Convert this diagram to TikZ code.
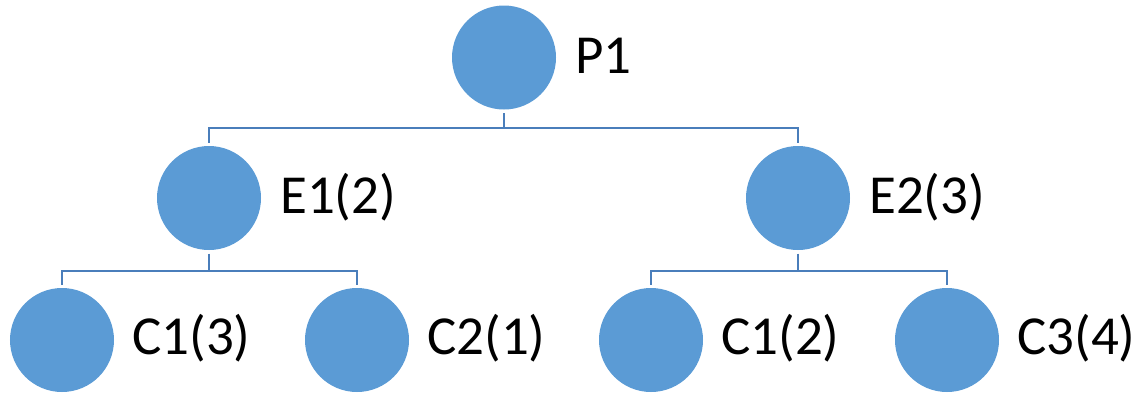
\documentclass[tikz,border=0pt]{standalone}
\usepackage{fontspec}
\setmainfont{Carlito}
\definecolor{nodefill}{HTML}{5B9BD5}
\definecolor{linecol}{HTML}{4A7EBB}
\begin{document}
\begin{tikzpicture}[x=1bp,y=-1bp,
  dot/.style={circle,fill=nodefill,draw=none,minimum size=104bp,inner sep=0pt},
  lbl/.style={anchor=base west,inner sep=0pt,font=\fontsize{55bp}{62bp}\selectfont},
  conn/.style={draw=linecol,line width=2.4bp}]
\useasboundingbox (0,0) rectangle (1139,392);
% nodes
\node[dot] (p1) at (504,57.5) {};
\node[dot] (e1) at (209,198) {};
\node[dot] (e2) at (798,198) {};
\node[dot] (c1) at (62,340) {};
\node[dot] (c2) at (357,340) {};
\node[dot] (c3) at (651,340) {};
\node[dot] (c4) at (947,340) {};
% labels
\node[lbl] (tp1) at (575,73) {P1};
\node[lbl] (te1) at (280,213) {E1(2)};
\node[lbl] (te2) at (869,213) {E2(3)};
\node[lbl] (tc1) at (132,354) {C1(3)};
\node[lbl] (tc2) at (427,354) {C2(1)};
\node[lbl] (tc3) at (721,354) {C1(2)};
\node[lbl] (tc4) at (1017,354) {C3(4)};
% bus coordinates
\coordinate (b1) at (504,128);
\coordinate (b2) at (209,271);
\coordinate (b3) at (798,271);
% connectors
\draw[conn] ([yshift=-3.5bp]p1.south) -- (b1);
\draw[conn] ([yshift=3bp]e1.north) |- (b1) -| ([yshift=3bp]e2.north);
\draw[conn] ([yshift=-3.5bp]e1.south) -- (b2);
\draw[conn] ([yshift=3bp]c1.north) |- (b2) -| ([yshift=3bp]c2.north);
\draw[conn] ([yshift=-3.5bp]e2.south) -- (b3);
\draw[conn] ([yshift=3bp]c3.north) |- (b3) -| ([yshift=3bp]c4.north);
\end{tikzpicture}
\end{document}
